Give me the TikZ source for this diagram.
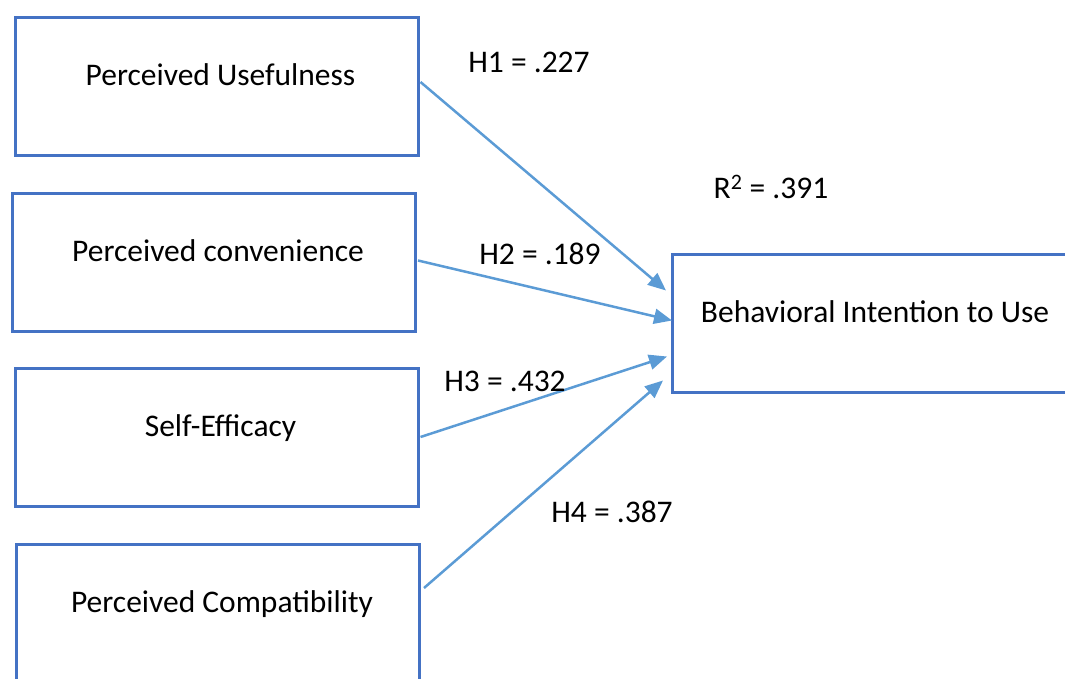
\documentclass[tikz,border=0pt]{standalone}
\usepackage{fontspec}
\setmainfont{Carlito}
\usetikzlibrary{arrows.meta}
\definecolor{boxblue}{HTML}{4472C4}
\definecolor{arrowblue}{HTML}{5B9BD5}
\begin{document}
\begin{tikzpicture}[x=1pt,y=-1pt,
  cbox/.style={draw=boxblue,line width=3pt,minimum width=403pt,minimum height=138pt,inner sep=0pt},
  ctext/.style={anchor=base,inner sep=0pt,font=\fontsize{31.5}{37}\selectfont},
  conn/.style={draw=arrowblue,line width=2.5pt,-{Triangle[length=18pt,width=15pt]}}]
\useasboundingbox (0,0) rectangle (1065,679);
\node[cbox] (b1) at (216.5,87) {};
\node[cbox] (b2) at (214,262.5) {};
\node[cbox] (b3) at (216.5,437) {};
\node[cbox] (b4) at (218,613) {};
\node[cbox] (bi) at (874,323.5) {};
\node[ctext] (t1) at ([xshift=4pt,yshift=1pt]b1.center) {Perceived Usefulness};
\node[ctext] (t2) at ([xshift=4pt,yshift=1pt]b2.center) {Perceived convenience};
\node[ctext] (t3) at ([xshift=4pt,yshift=1pt]b3.center) {Self-Efficacy};
\node[ctext] (t4) at ([xshift=4pt,yshift=1pt]b4.center) {Perceived Compatibility};
\node[ctext] (ti) at ([xshift=1pt,yshift=1pt]bi.center) {Behavioral Intention to Use};
\coordinate (e1) at ([xshift=-5pt,yshift=33pt]bi.west);
\coordinate (e2) at ([xshift=1pt,yshift=3pt]bi.west);
\coordinate (e3) at ([xshift=-4pt,yshift=-33pt]bi.west);
\coordinate (e4) at ([xshift=-8pt,yshift=-57pt]bi.west);
\draw[conn] ([xshift=1pt,yshift=5pt]b1.east) -- (e1);
\draw[conn] ([xshift=1pt,yshift=2pt]b2.east) -- (e2);
\draw[conn] ([xshift=1pt,yshift=0pt]b3.east) -- (e3);
\draw[conn] ([xshift=3pt,yshift=25pt]b4.east) -- (e4);
\node[ctext] (h1) at (529,73) {H1 = .227};
\node[ctext] (h2) at (540,264) {H2 = .189};
\node[ctext] (h3) at (505,391) {H3 = .432};
\node[ctext] (h4) at (612,522) {H4 = .387};
\node[ctext] (r2) at (771,199) {R\textsuperscript{2} = .391};
\end{tikzpicture}
\end{document}
